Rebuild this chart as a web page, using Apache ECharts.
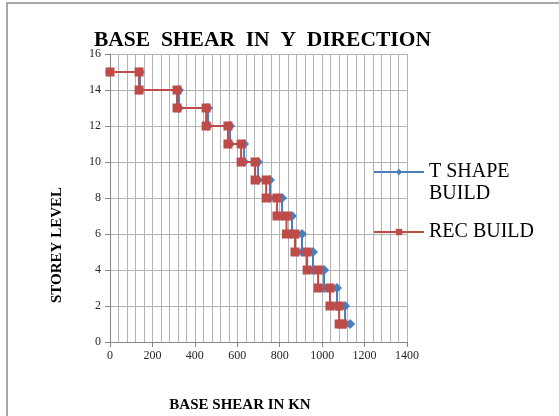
<!DOCTYPE html>
<html>
<head>
<meta charset="utf-8">
<script src="https://cdn.jsdelivr.net/npm/echarts@6/dist/echarts.min.js"></script>
<style>
  html, body { margin: 0; padding: 0; background: #ffffff; }
  #chart { width: 559px; height: 416px; }
</style>
</head>
<body>
<div id="chart"></div>
<script>
// Storey level of each step point (two points per storey: top and bottom of the step)
const storeyLevels = [15, 15, 14, 14, 13, 13, 12, 12, 11, 11, 10, 10, 9, 9, 8, 8,
                      7, 7, 6, 6, 5, 5, 4, 4, 3, 3, 2, 2, 1, 1];

// Cumulative base shear (kN) at each step point
const tShapeShear = [0, 141, 141, 325, 325, 462, 462, 566, 566, 632, 632, 698, 698, 754, 754, 811,
                     811, 858, 858, 905, 905, 957, 957, 1009, 1009, 1070, 1070, 1108, 1108, 1132];
const recShear    = [0, 137, 137, 316, 316, 453, 453, 556, 556, 618, 618, 684, 684, 736, 736, 787,
                     787, 832, 832, 872, 872, 929, 929, 981, 981, 1037, 1037, 1080, 1080, 1095];

const seriesNames = ['T SHAPE BUILD', 'REC BUILD'];
const xTicks = { min: 0, max: 1400, step: 200 };
const yTicks = { min: 0, max: 16, step: 2 };

function toPoints(xs, ys) {
  return xs.map((x, i) => [x, ys[i]]);
}

const serif = '"Liberation Serif", "DejaVu Serif", serif';
const gridColor = '#b3b3b3';
const axisColor = '#868686';

const chart = echarts.init(document.getElementById('chart'), null, { renderer: 'canvas' });

chart.setOption({
  backgroundColor: '#ffffff',
  animation: false,
  title: {
    text: 'BASE  SHEAR  IN  Y  DIRECTION',
    left: 89,
    top: 24,
    textStyle: { fontFamily: serif, fontSize: 21.5, fontWeight: 'bold', color: '#000000' }
  },
  graphic: [
    {
      type: 'rect',
      shape: { x: 7, y: 3, width: 620, height: 470 },
      style: { fill: 'none', stroke: '#8c8c8c', lineWidth: 1.5 },
      silent: true
    },
    {
      type: 'text',
      x: 57, y: 245,
      rotation: Math.PI / 2,
      style: {
        text: 'STOREY LEVEL',
        font: 'bold 15px ' + serif,
        fill: '#000000',
        align: 'center',
        verticalAlign: 'middle'
      }
    },
    {
      type: 'text',
      x: 240, y: 405,
      style: {
        text: 'BASE SHEAR IN KN',
        font: 'bold 15px ' + serif,
        fill: '#000000',
        align: 'center',
        verticalAlign: 'middle'
      }
    }
  ],
  legend: {
    orient: 'vertical',
    left: 373,
    top: 139,
    padding: 0,
    itemGap: 16,
    itemWidth: 50,
    itemHeight: 8,
    data: seriesNames,
    formatter: function (name) {
      return name === seriesNames[0] ? '\nT SHAPE\nBUILD' : name;
    },
    textStyle: { fontFamily: serif, fontSize: 20, color: '#000000', lineHeight: 22 }
  },
  grid: { left: 110, right: 152, top: 54, bottom: 74, containLabel: false },
  xAxis: {
    type: 'value',
    min: xTicks.min,
    max: xTicks.max,
    interval: xTicks.step,
    axisLine: { show: true, onZero: false, lineStyle: { color: axisColor, width: 1 } },
    axisTick: { show: true, length: 5, lineStyle: { color: axisColor } },
    axisLabel: {
      fontFamily: serif, fontSize: 12, color: '#262626', margin: 8,
      formatter: function (v) { return String(v); }
    },
    splitLine: { show: true, lineStyle: { color: gridColor, width: 1 } },
    minorTick: { show: false, splitNumber: 5 },
    minorSplitLine: { show: true, lineStyle: { color: gridColor, width: 1 } }
  },
  yAxis: {
    type: 'value',
    min: yTicks.min,
    max: yTicks.max,
    interval: yTicks.step,
    axisLine: { show: true, onZero: false, lineStyle: { color: axisColor, width: 1 } },
    axisTick: { show: true, length: 5, lineStyle: { color: axisColor } },
    axisLabel: { fontFamily: serif, fontSize: 12, color: '#262626', margin: 9 },
    splitLine: { show: true, lineStyle: { color: gridColor, width: 1 } }
  },
  series: [
    {
      name: seriesNames[0],
      type: 'line',
      data: toPoints(tShapeShear, storeyLevels),
      symbol: 'diamond',
      symbolSize: 10,
      lineStyle: { color: '#4a7ebb', width: 2 },
      itemStyle: { color: '#4a7ebb' },
      z: 2
    },
    {
      name: seriesNames[1],
      type: 'line',
      data: toPoints(recShear, storeyLevels),
      symbol: 'rect',
      symbolSize: 9,
      lineStyle: { color: '#be4b48', width: 2 },
      itemStyle: { color: '#be4b48' },
      z: 3
    }
  ]
});
</script>
</body>
</html>
